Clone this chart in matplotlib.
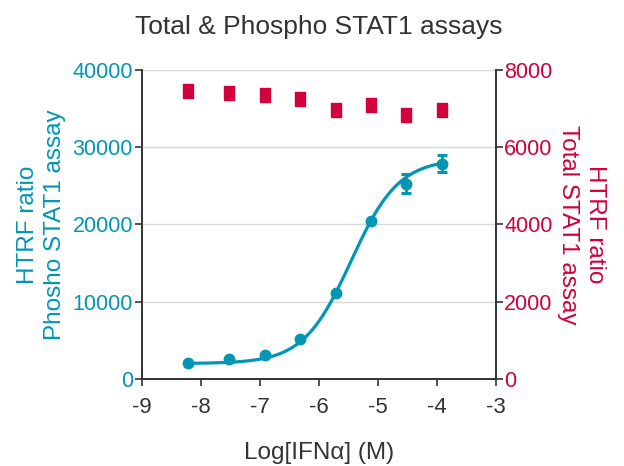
import numpy as np
import matplotlib
matplotlib.use('Agg')
import matplotlib.pyplot as plt

plt.rcParams['font.family'] = ['Liberation Sans', 'DejaVu Sans']
plt.rcParams['axes.unicode_minus'] = False

# log concentration of IFNa (M)
log_conc = [-8.22, -7.52, -6.92, -6.32, -5.72, -5.12, -4.52, -3.92]

# Phospho STAT1 assay (left axis)
phospho = [2030, 2590, 3100, 5180, 11100, 20500, 25300, 27870]
phospho_err = [0, 0, 0, 0, 0, 0, 1190, 1120]

# Total STAT1 assay (right axis)
total = [7450, 7400, 7350, 7250, 6960, 7090, 6830, 6970]
total_err = [0, 0, 80, 0, 0, 0, 0, 56]

# 4PL fit parameters for the phospho curve
fit_bottom = 2000
fit_top = 28500
fit_logec50 = -5.458
fit_hill = 1.075

blue = '#0096b4'
red = '#d2003c'
grey = '#333333'

fig = plt.figure(figsize=(6.24, 4.66), dpi=100)
ax = fig.add_axes([0.2276, 0.1867, 0.5673, 0.6631])
ax2 = ax.twinx()

# fitted curve
xs = np.linspace(log_conc[0], log_conc[-1], 300)
ys = fit_bottom + (fit_top - fit_bottom) / (1 + 10 ** ((fit_logec50 - xs) * fit_hill))
ax.plot(xs, ys, color=blue, lw=2.3, zorder=3)
ax.errorbar(log_conc, phospho, yerr=phospho_err, fmt='o', color=blue, ms=7.5,
            elinewidth=2, capsize=3.5, capthick=2.2, zorder=4)

# total STAT1 - slightly tall rectangles
rect = [(-0.38, -0.5), (0.38, -0.5), (0.38, 0.5), (-0.38, 0.5), (-0.38, -0.5)]
ax2.errorbar(log_conc, total, yerr=total_err, fmt='none', ecolor=red,
             elinewidth=2, capsize=3.6, capthick=2.5, zorder=3)
ax2.plot(log_conc, total, linestyle='none', marker=rect, ms=9.4,
         color=red, mec=red, zorder=4)

ax.set_xlim(-9, -3)
ax.set_ylim(0, 40000)
ax2.set_ylim(0, 8000)
ax.set_xticks(range(-9, -2))
ax.set_yticks(range(0, 40001, 10000))
ax2.set_yticks(range(0, 8001, 2000))

ax.grid(axis='y', color='#d9d9d9', lw=1)
ax.set_axisbelow(True)

for a in (ax, ax2):
    a.spines['top'].set_visible(False)
    for s in ('left', 'right', 'bottom'):
        a.spines[s].set_color(grey)
        a.spines[s].set_linewidth(1.2)

ax.tick_params(axis='x', colors=grey, labelsize=16, length=5, width=1.2, pad=8)
ax.tick_params(axis='y', colors=grey, labelcolor=blue, labelsize=15.5, length=5,
               width=1.2, pad=1.5)
ax2.tick_params(axis='y', colors=grey, labelcolor=red, labelsize=15.5, length=5,
                width=1.2, pad=1)

ax.set_xlabel('Log[IFNα] (M)', fontsize=17.5, color=grey, labelpad=17)
ax.set_ylabel('HTRF ratio\nPhosho STAT1 assay', fontsize=17.5, color=blue,
              labelpad=5, linespacing=1.25)
ax2.set_ylabel('HTRF ratio\nTotal STAT1 assay', fontsize=17.5, color=red,
               rotation=270, labelpad=38, linespacing=1.25)
ax.set_title('Total & Phospho STAT1 assays', fontsize=19, color=grey, pad=26)

fig.savefig('out.png', dpi=100)
